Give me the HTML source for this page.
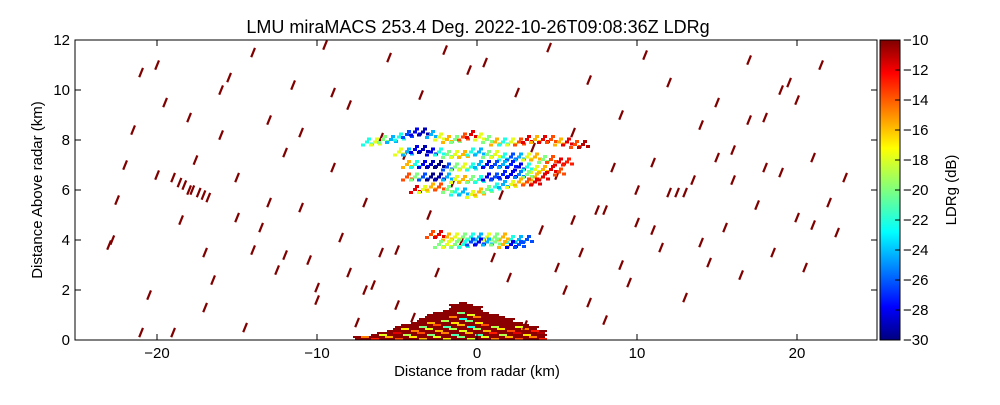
<!DOCTYPE html>
<html><head><meta charset="utf-8"><style>
body{margin:0;background:#fff;}
svg text{font-family:"Liberation Sans",sans-serif;}
</style></head><body>
<svg id="chart" width="1000" height="400" xmlns="http://www.w3.org/2000/svg">
<rect width="1000" height="400" fill="#fff"/>
<text x="478" y="33" text-anchor="middle" font-size="18">LMU miraMACS 253.4 Deg. 2022-10-26T09:08:36Z  LDRg</text>
<g id="marks"></g>
<rect x="75" y="40" width="802" height="300" fill="none" stroke="#000" stroke-width="1"/>
<g id="axes"></g>
<defs><linearGradient id="jet" x1="0" y1="1" x2="0" y2="0">
<stop offset="0" stop-color="#00007f"/><stop offset="0.11" stop-color="#0000ff"/><stop offset="0.36" stop-color="#00ffff"/><stop offset="0.5" stop-color="#7fff7f"/><stop offset="0.64" stop-color="#ffff00"/><stop offset="0.89" stop-color="#ff0000"/><stop offset="1" stop-color="#7f0000"/></linearGradient></defs>
<rect x="880" y="40" width="20" height="300" fill="url(#jet)" stroke="#000"/>
<g id="cbar"></g>
<text transform="translate(956,190) rotate(-90)" text-anchor="middle" font-size="15">LDRg (dB)</text>
<text x="477" y="376" text-anchor="middle" font-size="15">Distance from radar (km)</text>
<text transform="translate(42,190) rotate(-90)" text-anchor="middle" font-size="15">Distance Above radar  (km)</text>
</svg>
<script>
const xTicks=[-20,-10,0,10,20];
const yTicks=[0,2,4,6,8,10,12];
const cTicks=[-10,-12,-14,-16,-18,-20,-22,-24,-26,-28,-30];
// noise speckle: x km, z km
const noiseX=[-23,-22.5,-22,-21.5,-21,-20.5,-20,-19.5,-19,-18.5,-18,-17.6,-17,-16.5,-16,-15.5,-15,-14.5,-14,-13.5,-13,-12.5,-12,-11.5,-11,-10.5,-10,-9.5,-9,-8.5,-8,-7.5,-7,-6.5,-6,-5.5,-5,-4.5,-4,-3.5,-3,-2.5,-2,-1.5,-1,-0.5,0.5,1,1.5,2,2.5,3,3.5,4,4.5,5,5.5,6,6.5,7,7.5,8,8.5,9,9.5,10,10.5,11,11.5,12,12.5,13,13.5,14,14.5,15,15.5,16,16.5,17,17.5,18,18.5,19,19.5,20,20.5,21,21.5,22,22.5,23,-19,-17,-15,-13,-11,-9,-7,-5,5,7,9,11,13,15,17,19,21,-21,-18,-14,-10,-6,6,10,14,18,-22.8,-20,-16,-12,-8,8,12,16,20,-17.8,-17.4,-17.1,-16.8,-18.6,-18.3];
const noiseZ=[3.8,5.6,7,8.4,10.7,1.8,11,9.5,6.5,4.8,6,7.2,1.3,2.4,8.2,10.5,6.5,0.5,11.5,4.5,8.8,2.8,7.5,10.2,5.3,3.2,1.6,11.8,6.9,4.1,9.4,0.7,5.5,2.2,8.1,11.3,3.6,7.4,0.9,9.8,5,2.7,11.6,6.3,3.9,10.8,11.1,3.3,5.8,2.5,9.9,0.6,7.7,4.4,11.7,6.6,2,8.3,3.5,10.4,5.2,0.8,6.9,9,2.3,4.7,11.4,7.1,3.7,10.3,5.9,1.7,6.4,8.6,3.1,9.5,4.5,7.6,2.6,11.2,5.4,8.9,3.5,6.7,10.3,4.9,2.9,7.3,11,5.5,4.3,6.5,0.3,3.5,4.9,5.5,8.3,9.9,2,1.4,2.9,1.5,3,4.4,5.9,7.3,8.8,10,4.6,0.3,8.9,3.6,2.1,3.5,4.8,6,3.9,6.9,4,6.6,10,3.4,2.7,5.2,5.9,6.4,9.6,6.0,5.9,5.8,5.7,6.3,6.2];
// cloud/layer cells: x km, z km, LDR dB
const cellX=[-7,-6.5,-6,-5.5,-5,-4.5,-4,-3.5,-3,-2.5,-2,-1.5,-1,-0.5,0,0.5,1,1.5,2,2.5,3,3.5,4,4.5,5,5.5,6,6.5,-5,-4.5,-4,-3.5,-3,-2.5,-2,-1.5,-1,-0.5,0,0.5,1,1.5,2,2.5,3,3.5,4,4.5,5,5.5,-4.5,-4,-3.5,-3,-2.5,-2,-1.5,-1,-0.5,0,0.5,1,1.5,2,2.5,3,3.5,4,4.5,5,-4.5,-4,-3.5,-3,-2.5,-2,-1.5,-1,-0.5,0,0.5,1,1.5,2,2.5,3,3.5,4,-4,-3.5,-3,-2.5,-2,-1.5,-1,-0.5,0,0.5,1,1.5,2,2.5,3,3.5,-3,-2.5,-2,-1.5,-1,-0.5,0,0.5,1,1.5,2,2.5,3,-2.5,-2,-1.5,-1,-0.5,0,0.5,1,1.5,2,2.5];
const cellZ=[7.9,7.9,8,8,8.1,8.2,8.3,8.3,8.2,8.1,8,8,8.1,8.2,8.1,8,7.9,7.9,7.9,7.9,8,8,8,8,7.9,7.9,7.8,7.8,7.5,7.5,7.6,7.6,7.5,7.5,7.4,7.4,7.4,7.5,7.5,7.4,7.4,7.3,7.3,7.3,7.3,7.3,7.2,7.2,7.1,7.1,7,7,7,7,7,6.9,6.9,6.9,6.9,7,7,7,7,7,6.9,6.9,6.8,6.8,6.8,6.7,6.5,6.5,6.5,6.5,6.5,6.5,6.4,6.4,6.4,6.4,6.5,6.5,6.6,6.6,6.6,6.6,6.5,6.5,6,6,6.1,6.1,6,5.9,5.9,5.8,5.9,6,6.1,6.2,6.2,6.3,6.3,6.3,4.2,4.2,4.1,4.1,4.1,4.1,4.1,4.1,4.1,4.1,4.0,4.0,4.0,3.8,3.8,3.8,3.8,3.9,3.9,3.9,3.9,3.8,3.8,3.8];
const cellV=[-22,-18,-20,-24,-22,-26,-28,-29,-24,-18,-16,-20,-14,-12,-18,-20,-16,-22,-18,-14,-12,-16,-12,-14,-16,-12,-14,-11,-18,-24,-28,-29,-28,-22,-20,-18,-16,-22,-24,-20,-18,-22,-26,-24,-18,-16,-20,-14,-12,-13,-16,-22,-28,-29,-30,-26,-20,-18,-22,-24,-28,-26,-24,-27,-28,-22,-18,-16,-12,-14,-14,-20,-26,-30,-29,-24,-18,-16,-20,-22,-28,-26,-27,-28,-25,-20,-16,-12,-12,-18,-16,-14,-20,-22,-24,-18,-16,-20,-22,-24,-18,-16,-14,-12,-14,-12,-16,-18,-20,-22,-24,-18,-20,-16,-22,-24,-26,-20,-18,-20,-22,-26,-28,-24,-20,-16,-28,-26,-22,-18,-14];
// ground clutter wedge: x km, top height km, LDR dB
const gndX=[-7.5,-7,-6.5,-6,-5.5,-5,-4.5,-4,-3.5,-3,-2.5,-2,-1.5,-1,-0.5,0,0.5,1,1.5,2,2.5,3,3.5,4];
const gndZ=[0.1,0.15,0.2,0.3,0.4,0.5,0.6,0.7,0.85,1.0,1.1,1.2,1.4,1.5,1.4,1.3,1.1,1.0,0.9,0.8,0.7,0.6,0.5,0.4];
const gndV=[-11,-11,-11,-12,-12,-12,-13,-13,-14,-14,-14,-15,-15,-16,-16,-15,-14,-13,-13,-12,-12,-11,-11,-11];

const sx=v=>477+v*16, sy=v=>340-v*25, cy=v=>40+(-10-v)*15;
function jet(v){let t=(v+30)/20;t=Math.max(0,Math.min(1,t));
 const f=x=>Math.max(0,Math.min(1,1.5-Math.abs(4*t-x)));
 return `rgb(${Math.round(255*f(3))},${Math.round(255*f(2))},${Math.round(255*f(1))})`;}
const NS="http://www.w3.org/2000/svg";
function mk(t,a,p){const e=document.createElementNS(NS,t);for(const k in a)e.setAttribute(k,a[k]);p.appendChild(e);return e;}
const marks=document.getElementById('marks');
const offs=[[0,0],[5,2],[-4,3],[2,-3]];
gndX.forEach((x,i)=>{let j=0;for(let k=0;k<gndZ[i];k+=0.08){j++;
 const dark=(j+i)%3!==0||k>gndZ[i]*0.7;
 const r=mk('rect',{x:sx(x)-4+(j%2)*2,y:sy(k+0.08),width:8,height:2,fill:dark?'#8b0000':jet(gndV[i]-(j%4)*2)},marks);
 
 }});
noiseX.forEach((x,i)=>{const z=noiseZ[i];
 const r=mk('rect',{x:sx(x)-1,y:sy(z)-5,width:2.2,height:10,fill:'#800000',transform:`rotate(22 ${sx(x)} ${sy(z)})`},marks);
 
 });
cellX.forEach((x,i)=>{offs.forEach(o=>{
 const r=mk('rect',{x:sx(x)+o[0],y:sy(cellZ[i])+o[1]-2,width:4,height:3,fill:jet(cellV[i])},marks);
 
 });});
const ax=document.getElementById('axes');
xTicks.forEach(t=>{const x=sx(t);
 mk('line',{x1:x,x2:x,y1:340,y2:334,stroke:'#000'},ax);mk('line',{x1:x,x2:x,y1:40,y2:46,stroke:'#000'},ax);
 const e=mk('text',{x:x,y:358,'text-anchor':'middle','font-size':15},ax);e.textContent=t<0?'\u2212'+(-t):t;
 
 });
yTicks.forEach(t=>{const y=sy(t);
 mk('line',{x1:75,x2:81,y1:y,y2:y,stroke:'#000'},ax);mk('line',{x1:877,x2:871,y1:y,y2:y,stroke:'#000'},ax);
 const e=mk('text',{x:70,y:y+5,'text-anchor':'end','font-size':15},ax);e.textContent=t;
 
 });
const cb=document.getElementById('cbar');
cTicks.forEach(t=>{const y=cy(t);
 mk('line',{x1:895,x2:900,y1:y,y2:y,stroke:'#000'},cb);
 const e=mk('text',{x:903,y:y+5,'font-size':15},cb);e.textContent='\u2212'+(-t);
 
 });
</script>
</body></html>
